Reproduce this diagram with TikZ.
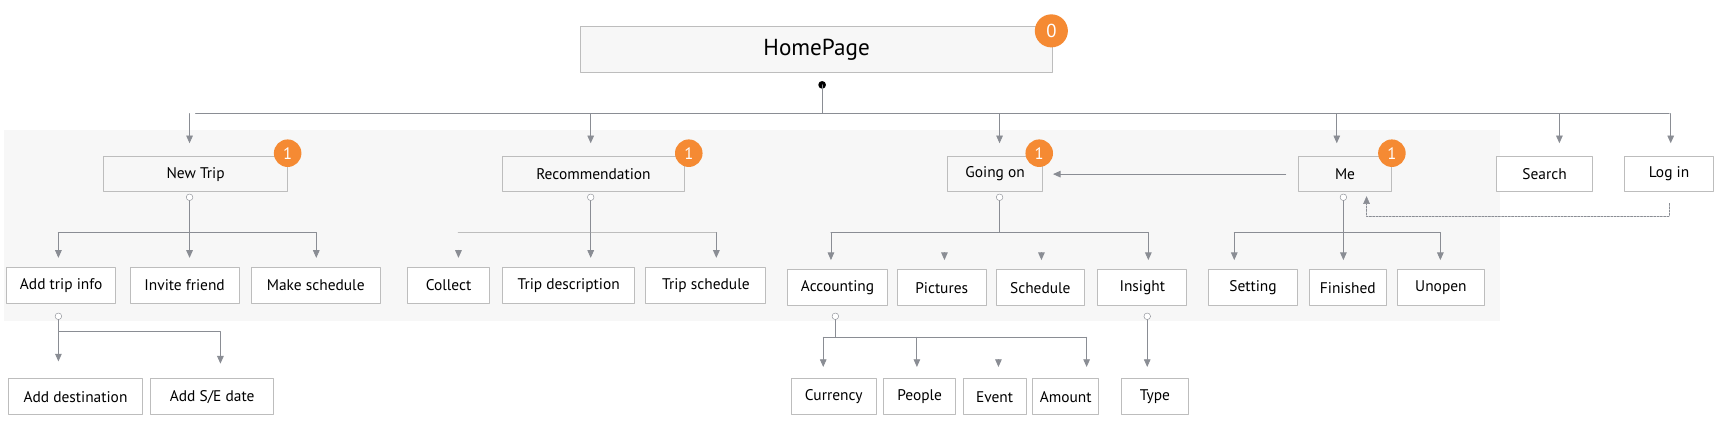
\documentclass[tikz,border=0pt]{standalone}
\usepackage{fontspec}
\setmainfont{PT Sans}
\usetikzlibrary{arrows.meta}
\usetikzlibrary{positioning}
\definecolor{boxline}{HTML}{BDBDBD}
\definecolor{boxfill}{HTML}{F7F7F7}
\definecolor{wire}{HTML}{8A8D94}
\definecolor{badge}{HTML}{F58A33}
\tikzset{
  page/.style={draw=boxline, fill=white, line width=0.9pt, inner sep=0pt, font=\fontsize{14}{16}\selectfont},
  mainpage/.style={page, fill=boxfill},
  num/.style={circle, fill=badge, text=white, inner sep=0pt, minimum size=25pt, font=\fontsize{15}{16}\selectfont},
  hub/.style={circle, draw=wire, fill=white, inner sep=0pt, minimum size=6pt},
  arr/.style={draw=wire, line width=0.8pt, -{Triangle[length=7pt,width=6pt]}},
  wireline/.style={draw=wire, line width=0.8pt}
}
\begin{document}
\begin{tikzpicture}[x=1pt, y=-1pt, line cap=round, line join=round]
\useasboundingbox (0,0) rectangle (1568,400);
\fill[boxfill] (4,118) rectangle (1361,291);

% top
\node[mainpage, minimum width=428pt, minimum height=42pt, font=\fontsize{21}{24}\selectfont] (home) at (741,45) {HomePage};
\node[num, minimum size=30pt, font=\fontsize{17}{18}\selectfont] (b0) at (954,28) {0};
\fill (746,77) circle (3.5pt);
\coordinate (top) at (746,103);
\draw[wireline] (746,77) -- (top);

% first level
\node[mainpage, minimum width=167pt, minimum height=32pt] (newtrip) at (177.5,158) {New Trip};
\node[mainpage, minimum width=165pt, minimum height=32pt] (recom) at (538.5,158) {Recommendation};
\node[mainpage, minimum width=86pt, minimum height=32pt] (goingon) at (903,158) {Going on};
\node[mainpage, minimum width=85pt, minimum height=32pt] (me) at (1220.5,158) {Me};
\node[page, minimum width=87pt, minimum height=32pt] (search) at (1401.5,158) {Search};
\node[page, minimum width=81pt, minimum height=32pt] (login) at (1514.5,158) {Log in};
\node[num] (b1) at (261,139) {1};
\node[num] (b2) at (625,139) {1};
\node[num] (b3) at (943,139) {1};
\node[num] (b4) at (1263,139) {1};

\draw[wireline] (top -| newtrip) -- (top -| login);
\draw[arr] (top -| 172,0) -- ([yshift=12pt]172,142);
\draw[arr] (top -| 536,0) -- ([yshift=12pt]536,142);
\draw[arr] (top -| 907,0) -- ([yshift=12pt]907,142);
\draw[arr] (top -| 1213,0) -- ([yshift=12pt]1213,142);
\draw[arr] (top -| 1415,0) -- ([yshift=12pt]1415,142);
\draw[arr] (top -| 1516,0) -- ([yshift=12pt]1516,142);

\draw[arr] ([xshift=-11pt]me.west) -- ([xshift=9pt]goingon.east);
\draw[arr, dashed, line width=0.5pt, dash pattern=on 2pt off 1pt] ([yshift=-10pt]login.south) -- ++(0,12) -| ([yshift=-4pt]1240,174);

% second level
\node[page, minimum width=99pt, minimum height=33pt] (tripinfo) at (55.5,259) {Add trip info};
\node[page, minimum width=99pt, minimum height=33pt] (invite) at (167.5,259) {Invite friend};
\node[page, minimum width=117pt, minimum height=33pt] (makesch) at (286.5,259) {Make schedule};
\node[page, minimum width=74pt, minimum height=33pt] (collect) at (407,259) {Collect};
\node[page, minimum width=120pt, minimum height=33pt] (tripdesc) at (516,259) {Trip description};
\node[page, minimum width=109pt, minimum height=33pt] (tripsch) at (640.5,259) {Trip schedule};
\node[page, minimum width=90pt, minimum height=33pt] (account) at (760,261) {Accounting};
\node[page, minimum width=81pt, minimum height=33pt] (pictures) at (854.5,261) {Pictures};
\node[page, minimum width=80pt, minimum height=33pt] (schedule) at (944,261) {Schedule};
\node[page, minimum width=81pt, minimum height=33pt] (insight) at (1036.5,261) {Insight};
\node[page, minimum width=80pt, minimum height=33pt] (setting) at (1137,261) {Setting};
\node[page, minimum width=70pt, minimum height=33pt] (finished) at (1223,261) {Finished};
\node[page, minimum width=79pt, minimum height=33pt] (unopen) at (1307.5,261) {Unopen};

\node[hub] (hubnt) at (172,179) {};
\node[hub] (hubrc) at (536,179) {};
\node[hub] (hubgo) at (907,179) {};
\node[hub] (hubme) at (1219,179) {};
\coordinate (busnt) at (172,211);
\coordinate (busrc) at (536,211);
\coordinate (busgo) at (907,211);
\coordinate (busme) at (1219,211);

\draw[wireline] (hubnt) -- (busnt);
\draw[arr] (53,211) -- (53,234);
\draw[arr] (busnt) -- (172,234);
\draw[arr] (287,211) -- (287,234);
\draw[wireline] (53,211) -- (287,211);

\draw[wireline] (hubrc) -- (busrc);
\draw[wireline, boxline, line width=1.6pt] (416,211) -- (650,211);
\draw[arr] (416,230) -- (416,234);
\draw[arr] (busrc) -- (536,234);
\draw[arr] (650,211) -- (650,234);

\draw[wireline] (hubgo) -- (busgo);
\draw[wireline] (754,211) -- (1042,211);
\draw[arr] (754,211) -- (754,236);
\draw[arr] (857,230) -- (857,236);
\draw[arr] (945,230) -- (945,236);
\draw[arr] (1042,211) -- (1042,236);

\draw[wireline] (hubme) -- (busme);
\draw[wireline] (1120,211) -- (1307,211);
\draw[arr] (1120,211) -- (1120,236);
\draw[arr] (busme) -- (1219,236);
\draw[arr] (1307,211) -- (1307,236);

% third level
\node[page, minimum width=121pt, minimum height=33pt] (dest) at (68.5,360) {Add destination};
\node[page, minimum width=111pt, minimum height=33pt] (sedate) at (192.5,360) {Add S/E date};
\node[page, minimum width=77pt, minimum height=33pt] (currency) at (756.5,360) {Currency};
\node[page, minimum width=65pt, minimum height=33pt] (people) at (834.5,360) {People};
\node[page, minimum width=57pt, minimum height=33pt] (event) at (902.5,360) {Event};
\node[page, minimum width=60pt, minimum height=33pt] (amount) at (967,360) {Amount};
\node[page, minimum width=60pt, minimum height=33pt] (type) at (1048,360) {Type};

\node[hub] (hubti) at (53,287) {};
\node[hub] (hubac) at (758,287) {};
\node[hub] (hubin) at (1041,287) {};

\draw[wireline] (hubti) -- (53,301) -- (200,301);
\draw[arr] (53,301) -- (53,328);
\draw[arr] (200,301) -- (200,330);

\draw[wireline] (hubac) -- (758,306);
\draw[wireline] (747,306) -- (986,306);
\draw[arr] (747,306) -- (747,333);
\draw[arr] (832,306) -- (832,333);
\draw[arr] (906,330) -- (906,333);
\draw[arr] (986,306) -- (986,333);

\draw[arr] (hubin) -- (1041,333);
\end{tikzpicture}
\end{document}
